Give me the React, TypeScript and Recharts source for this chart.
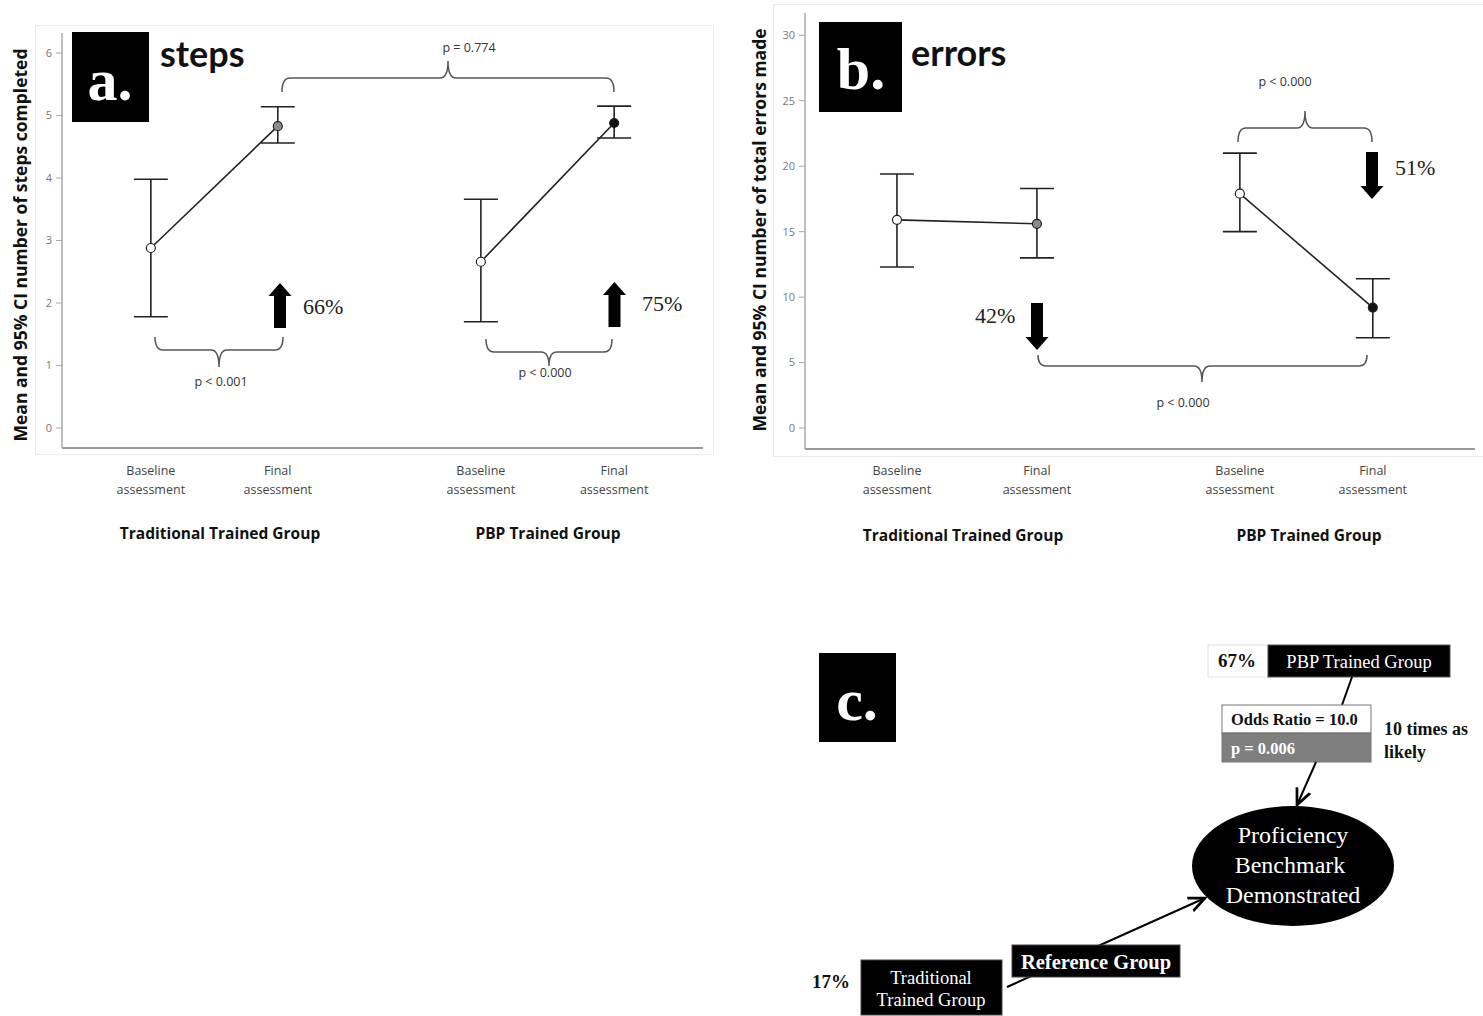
import React from "react";
import { ComposedChart, Line, ErrorBar, XAxis, YAxis } from "recharts";

const POINT_LABELS = ["Baseline assessment", "Final assessment", "Baseline assessment", "Final assessment"];
const GROUP_LABELS = ["Traditional Trained Group", "PBP Trained Group"];

// where each assessment sits on the x axis (groups have a gap between them)
const SLOTS_A = [1, 2, 3.6, 4.65];
const SLOTS_B = [1, 2, 3.45, 4.4];

// a. steps completed, mean and 95% CI
const STEPS_MEAN = [2.88, 4.83, 2.66, 4.88];
const STEPS_LOW = [1.78, 4.56, 1.7, 4.64];
const STEPS_HIGH = [3.98, 5.14, 3.66, 5.15];
const STEPS_TICKS = [0, 1, 2, 3, 4, 5, 6];

// b. total errors made, mean and 95% CI
const ERRORS_MEAN = [15.9, 15.6, 17.9, 9.2];
const ERRORS_LOW = [12.3, 13.0, 15.0, 6.9];
const ERRORS_HIGH = [19.4, 18.3, 21.0, 11.4];
const ERRORS_TICKS = [0, 5, 10, 15, 20, 25, 30];

const DOT_FILL = ["#ffffff", "#8c8c8c", "#ffffff", "#111111"];

const SANS = "'Open Sans', sans-serif";
const SERIF = "'Liberation Serif', 'Times New Roman', serif";

function rows(slots: number[], mean: number[], low: number[], high: number[], from: number, to: number) {
  const out = [];
  for (let i = from; i < to; i++) {
    out.push({ x: slots[i], mean: mean[i], err: [mean[i] - low[i], high[i] - mean[i]], idx: i });
  }
  return out;
}

function SlotTick(props: any) {
  const { x, y, payload, slots, dy1, dy2 } = props;
  const i = slots.indexOf(payload.value);
  if (i < 0) return null;
  const [first, second] = POINT_LABELS[i].split(" ");
  return (
    <g>
      <text x={x} y={y + dy1} textAnchor="middle" fontSize={12.5} fill="#444" fontFamily={SANS}>{first}</text>
      <text x={x} y={y + dy2} textAnchor="middle" fontSize={12.5} fill="#444" fontFamily={SANS}>{second}</text>
    </g>
  );
}

const dot = (p: any) => (
  <circle key={`d-${p.payload.idx}`} cx={p.cx} cy={p.cy} r={4.5} fill={DOT_FILL[p.payload.idx]} stroke="#222" strokeWidth={1.2} />
);

function Panel(props: any) {
  const { slots, mean, low, high, xDomain, yDomain, yTicks, width, height, margin, dy1, dy2 } = props;
  const trad = rows(slots, mean, low, high, 0, 2);
  const pbp = rows(slots, mean, low, high, 2, 4);
  return (
    <ComposedChart width={width} height={height} margin={margin} data={[...trad, ...pbp]}>
      <XAxis
        type="number"
        dataKey="x"
        domain={xDomain}
        ticks={slots}
        interval={0}
        allowDataOverflow
        height={60}
        tickSize={0}
        tickMargin={0}
        tickLine={false}
        axisLine={{ stroke: "#9a9a9a", strokeWidth: 2 }}
        tick={(t: any) => <SlotTick {...t} slots={slots} dy1={dy1} dy2={dy2} />}
      />
      <YAxis
        type="number"
        domain={yDomain}
        ticks={yTicks}
        interval={0}
        allowDataOverflow
        width={40}
        tickSize={6}
        tickMargin={4}
        axisLine={{ stroke: "#aaaaaa", strokeWidth: 1.5 }}
        tickLine={{ stroke: "#aaaaaa" }}
        tick={{ fontSize: 11, fill: "#777", fontFamily: SANS }}
      />
      {[trad, pbp].map((d, k) => (
        <Line
          key={k}
          data={d}
          dataKey="mean"
          stroke="#222"
          strokeWidth={1.6}
          dot={dot}
          activeDot={false}
          isAnimationActive={false}
        >
          <ErrorBar dataKey="err" direction="y" width={17} stroke="#222" strokeWidth={1.6} />
        </Line>
      ))}
    </ComposedChart>
  );
}

function brace(x1: number, x2: number, xm: number, yEnd: number, yLine: number, yTip: number) {
  const r = 8;
  return `M ${x1} ${yEnd} Q ${x1} ${yLine} ${x1 + r} ${yLine} L ${xm - r} ${yLine} Q ${xm} ${yLine} ${xm} ${yTip} Q ${xm} ${yLine} ${xm + r} ${yLine} L ${x2 - r} ${yLine} Q ${x2} ${yLine} ${x2} ${yEnd}`;
}

function blockArrow(cx: number, yTip: number, yTail: number) {
  const s = yTail > yTip ? 1 : -1;
  const hb = yTip + 13 * s;
  return `${cx},${yTip} ${cx + 11.5},${hb} ${cx + 6},${hb} ${cx + 6},${yTail} ${cx - 6},${yTail} ${cx - 6},${hb} ${cx - 11.5},${hb}`;
}

const pStyle = { fontSize: 12.5, fill: "#333", fontFamily: SANS, textAnchor: "middle" as const };
const pctStyle = { fontSize: 22, fill: "#222", fontFamily: SERIF };
const groupStyle = { fontSize: 15.5, fontWeight: 700, fill: "#111", fontFamily: SANS, textAnchor: "middle" as const };
const titleStyle = { fontSize: 17.5, fontWeight: 700, fill: "#111", fontFamily: SANS, textAnchor: "middle" as const };

function Overlay() {
  return (
    <svg width={1483} height={1016} style={{ position: "absolute", left: 0, top: 0, pointerEvents: "none" }}>
      <defs>
        <marker id="arr" viewBox="0 0 10 10" refX="9" refY="5" markerWidth="9" markerHeight="9" orient="auto">
          <path d="M0,1 L9,5 L0,9" fill="none" stroke="#000" strokeWidth={1.5} />
        </marker>
      </defs>

      {/* panel a */}
      <rect x={72} y={32} width={77} height={90} fill="#000" />
      <text x={110} y={100} textAnchor="middle" fontSize={60} fontWeight={700} fill="#fff" fontFamily={SERIF}>a.</text>
      <text x={160} y={67} fontSize={36} fontWeight={700} fill="#111" fontFamily="Lato, sans-serif">steps</text>
      <text transform="translate(27,245) rotate(-90)" {...titleStyle}>Mean and 95% CI number of steps completed</text>
      <g fill="none" stroke="#555" strokeWidth={1.5}>
        <path d={brace(282, 614, 448, 92, 78, 61)} />
        <path d={brace(155, 283, 219, 337, 350, 367)} />
        <path d={brace(486, 612, 549, 339, 352, 366)} />
      </g>
      <text x={469} y={52} {...pStyle}>p = 0.774</text>
      <text x={221} y={386} {...pStyle}>p &lt; 0.001</text>
      <text x={545} y={377} {...pStyle}>p &lt; 0.000</text>
      <polygon points={blockArrow(280, 283, 328)} fill="#000" />
      <polygon points={blockArrow(614.5, 282, 327)} fill="#000" />
      <text x={303} y={314} {...pctStyle}>66%</text>
      <text x={642} y={311} {...pctStyle}>75%</text>
      <text x={220} y={539} {...groupStyle}>{GROUP_LABELS[0]}</text>
      <text x={548} y={539} {...groupStyle}>{GROUP_LABELS[1]}</text>

      {/* panel b */}
      <rect x={819} y={22} width={83} height={90} fill="#000" />
      <text x={861} y={89} textAnchor="middle" fontSize={60} fontWeight={700} fill="#fff" fontFamily={SERIF}>b.</text>
      <text x={911} y={66} fontSize={36} fontWeight={700} fill="#111" fontFamily="Lato, sans-serif">errors</text>
      <text transform="translate(766,230) rotate(-90)" {...titleStyle}>Mean and 95% CI number of total errors made</text>
      <g fill="none" stroke="#555" strokeWidth={1.5}>
        <path d={brace(1238, 1372, 1305, 142, 128, 111)} />
        <path d={brace(1038, 1367, 1202, 355, 366, 382)} />
      </g>
      <text x={1285} y={86} {...pStyle}>p &lt; 0.000</text>
      <text x={1183} y={407} {...pStyle}>p &lt; 0.000</text>
      <polygon points={blockArrow(1372, 199, 152)} fill="#000" />
      <polygon points={blockArrow(1037, 350, 303)} fill="#000" />
      <text x={1395} y={175} {...pctStyle}>51%</text>
      <text x={975} y={323} {...pctStyle}>42%</text>
      <text x={963} y={541} {...groupStyle}>{GROUP_LABELS[0]}</text>
      <text x={1309} y={541} {...groupStyle}>{GROUP_LABELS[1]}</text>

      {/* panel c */}
      <rect x={819} y={653} width={77} height={89} fill="#000" />
      <text x={857} y={720} textAnchor="middle" fontSize={60} fontWeight={700} fill="#fff" fontFamily={SERIF}>c.</text>

      <rect x={1208} y={645} width={60} height={32} fill="#fff" stroke="#e0e0e0" />
      <text x={1237} y={667} textAnchor="middle" fontSize={19} fontWeight={700} fill="#111" fontFamily={SERIF}>67%</text>
      <rect x={1268} y={645} width={182} height={32} fill="#000" stroke="#555" />
      <text x={1359} y={668} textAnchor="middle" fontSize={18.5} fill="#fff" fontFamily={SERIF}>PBP Trained Group</text>
      <line x1={1352} y1={677} x2={1342} y2={705} stroke="#000" strokeWidth={2} />
      <rect x={1222} y={705} width={149} height={28} fill="#fff" stroke="#777" />
      <text x={1231} y={725} fontSize={16.5} fontWeight={700} fill="#111" fontFamily={SERIF}>Odds Ratio = 10.0</text>
      <rect x={1222} y={733} width={149} height={29} fill="#7f7f7f" stroke="#777" />
      <text x={1231} y={754} fontSize={16.5} fontWeight={700} fill="#fff" fontFamily={SERIF}>p = 0.006</text>
      <text x={1384} y={735} fontSize={18} fontWeight={700} fill="#111" fontFamily={SERIF}>10 times as</text>
      <text x={1384} y={758} fontSize={18} fontWeight={700} fill="#111" fontFamily={SERIF}>likely</text>
      <line x1={1316} y1={762} x2={1297} y2={805} stroke="#000" strokeWidth={2} markerEnd="url(#arr)" />

      <ellipse cx={1293} cy={866} rx={101} ry={60} fill="#000" />
      <text x={1293} y={843} textAnchor="middle" fontSize={24} fill="#fff" fontFamily={SERIF}>Proficiency</text>
      <text x={1290} y={873} textAnchor="middle" fontSize={24} fill="#fff" fontFamily={SERIF}>Benchmark</text>
      <text x={1293} y={903} textAnchor="middle" fontSize={24} fill="#fff" fontFamily={SERIF}>Demonstrated</text>

      <line x1={1007} y1={987} x2={1205} y2={898} stroke="#000" strokeWidth={2} markerEnd="url(#arr)" />
      <rect x={1012} y={945} width={168} height={32} fill="#000" stroke="#444" />
      <text x={1096} y={969} textAnchor="middle" fontSize={20.5} fontWeight={700} fill="#fff" fontFamily={SERIF}>Reference Group</text>
      <rect x={861} y={960} width={141} height={55} fill="#000" stroke="#444" />
      <text x={931} y={984} textAnchor="middle" fontSize={18.5} fill="#fff" fontFamily={SERIF}>Traditional</text>
      <text x={931} y={1006} textAnchor="middle" fontSize={18.5} fill="#fff" fontFamily={SERIF}>Trained Group</text>
      <text x={831} y={988} textAnchor="middle" fontSize={19} fontWeight={700} fill="#111" fontFamily={SERIF}>17%</text>
    </svg>
  );
}

export default function App() {
  return (
    <div style={{ position: "absolute", left: 0, top: 0, width: 1483, height: 1016, background: "#fff", overflow: "hidden" }}>
      <div style={{ position: "absolute", left: 35, top: 25, width: 677, height: 428, border: "1px solid #ececec" }} />
      <div style={{ position: "absolute", left: 773, top: 4, width: 720, height: 451, border: "1px solid #ececec" }} />
      <div style={{ position: "absolute", left: 0, top: 0 }}>
        <Panel
          slots={SLOTS_A}
          mean={STEPS_MEAN}
          low={STEPS_LOW}
          high={STEPS_HIGH}
          xDomain={[0.3, 5.35]}
          yDomain={[-0.32, 6.32]}
          yTicks={STEPS_TICKS}
          width={720}
          height={560}
          margin={{ top: 33, right: 17, bottom: 52, left: 22 }}
          dy1={27}
          dy2={46}
        />
      </div>
      <div style={{ position: "absolute", left: 740, top: 0 }}>
        <Panel
          slots={SLOTS_B}
          mean={ERRORS_MEAN}
          low={ERRORS_LOW}
          high={ERRORS_HIGH}
          xDomain={[0.343, 5.13]}
          yDomain={[-1.6, 31.7]}
          yTicks={ERRORS_TICKS}
          width={743}
          height={560}
          margin={{ top: 13, right: 8, bottom: 51, left: 25 }}
          dy1={26}
          dy2={45}
        />
      </div>
      <Overlay />
    </div>
  );
}
